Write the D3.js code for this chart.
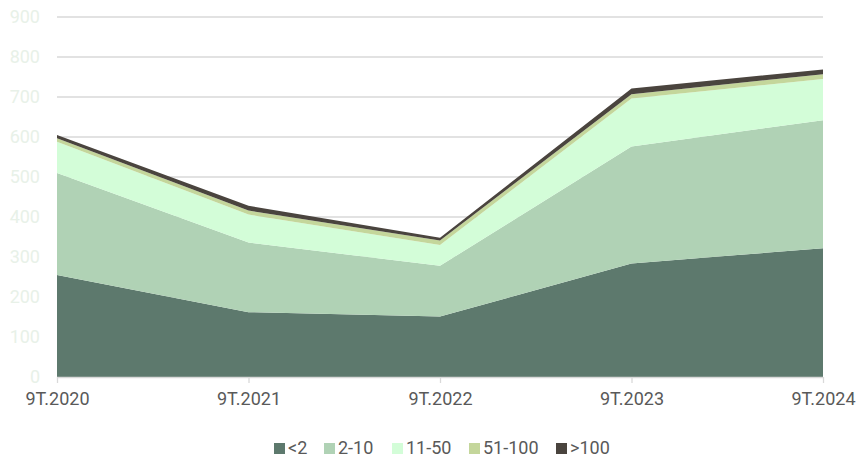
<!DOCTYPE html>
<html>
<head>
<meta charset="utf-8">
<script src="https://cdn.jsdelivr.net/npm/d3@7"></script>
<style>
  html, body { margin: 0; padding: 0; background: #ffffff; }
  svg { display: block; font-family: Roboto, "Noto Sans", sans-serif; }
</style>
</head>
<body>
<svg id="chart" width="860" height="457"></svg>
<script>
const categories = ["9T.2020", "9T.2021", "9T.2022", "9T.2023", "9T.2024"];
const seriesNames = ["<2", "2-10", "11-50", "51-100", ">100"];
const vLt2 = [255, 162, 151, 284, 322];
const v2to10 = [255, 174, 127, 292, 320];
const v11to50 = [78, 70, 52, 120, 103];
const v51to100 = [9, 10, 11, 11, 12];
const vGt100 = [8, 12, 7, 14, 12];
const yTicks = [0, 100, 200, 300, 400, 500, 600, 700, 800, 900];
const colors = ["#5d796d", "#b0d2b5", "#d3fdd8", "#c4d69b", "#4a443e"];

const seriesValues = [vLt2, v2to10, v11to50, v51to100, vGt100];
const rows = categories.map((c, i) => {
  const r = { cat: c };
  seriesNames.forEach((s, j) => { r[s] = seriesValues[j][i]; });
  return r;
});

const svg = d3.select("#chart");
const mLeft = 57, mRight = 823, mTop = 17, mBottom = 377;

const x = d3.scalePoint().domain(categories).range([mLeft, mRight]);
const y = d3.scaleLinear().domain([0, 900]).range([mBottom, mTop]);

// gridlines
svg.append("g").selectAll("line").data(yTicks.filter(t => t > 0)).join("line")
  .attr("x1", mLeft).attr("x2", mRight)
  .attr("y1", d => y(d)).attr("y2", d => y(d))
  .attr("stroke", "#d9d9d9").attr("stroke-width", 1.3);

// y labels
svg.append("g").selectAll("text").data(yTicks).join("text")
  .attr("x", 40).attr("y", d => y(d)).attr("dy", "0.35em")
  .attr("text-anchor", "end")
  .attr("font-size", 18).attr("fill", "#e8f1e8")
  .text(d => d);

const stack = d3.stack().keys(seriesNames);
const stacked = stack(rows);
const area = d3.area()
  .x(d => x(d.data.cat))
  .y0(d => y(d[0]))
  .y1(d => y(d[1]));

svg.append("g").selectAll("path").data(stacked).join("path")
  .attr("d", area)
  .attr("fill", (d, i) => colors[i]);

// x axis
const xAxis = svg.append("g").attr("transform", `translate(0,${mBottom})`)
  .call(d3.axisBottom(x).tickSize(6).tickPadding(9).tickSizeOuter(0));
xAxis.select(".domain").attr("stroke", "#d9d9d9").attr("stroke-width", 1.3)
  .attr("d", `M${mLeft},0.5H${mRight}`);
xAxis.selectAll(".tick line").attr("stroke", "#d9d9d9").attr("stroke-width", 1.3);
xAxis.selectAll(".tick text").attr("font-size", 18).attr("fill", "#595959")
  .attr("font-family", "Roboto, 'Noto Sans', sans-serif");

// legend
const legendX = [274, 324, 392, 469, 556];
const lg = svg.append("g").selectAll("g").data(seriesNames).join("g")
  .attr("transform", (d, i) => `translate(${legendX[i]},0)`);
lg.append("rect").attr("x", 0).attr("y", 443).attr("width", 11).attr("height", 11)
  .attr("fill", (d, i) => colors[i]);
lg.append("text").attr("x", 14).attr("y", 454)
  .attr("font-size", 18).attr("fill", "#595959").text(d => d);
</script>
</body>
</html>
